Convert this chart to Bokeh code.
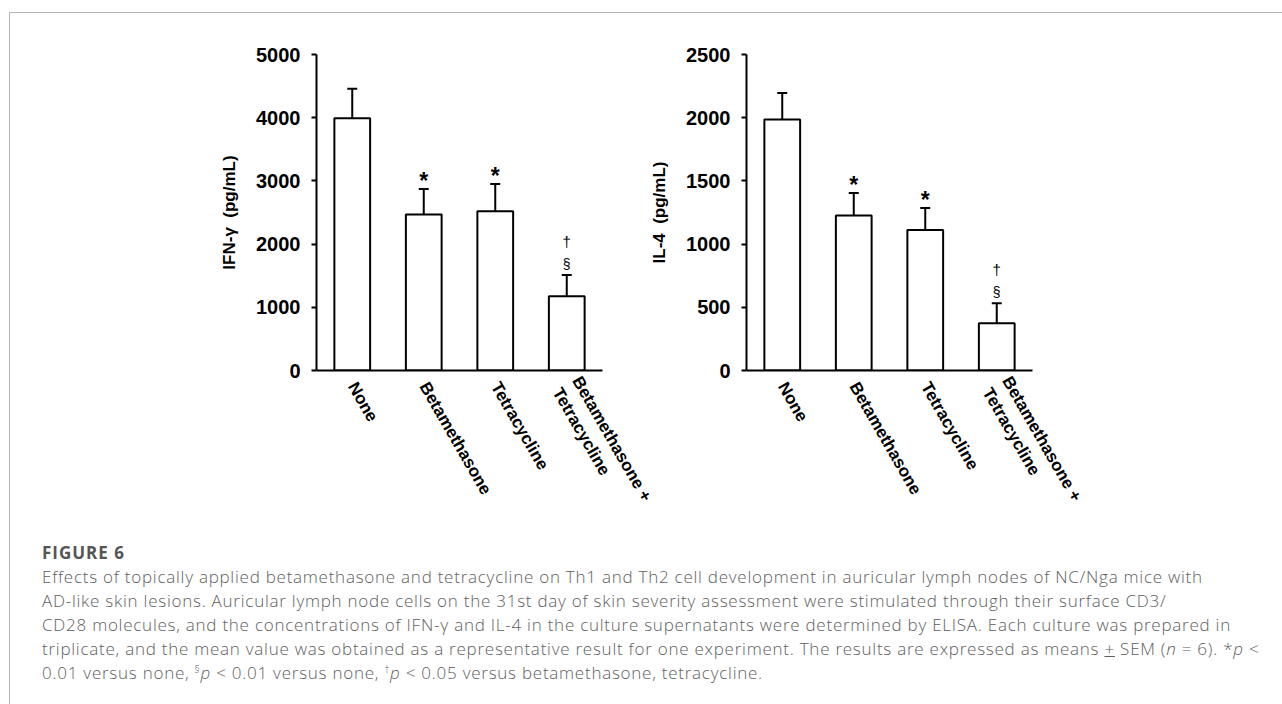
import math
from bokeh.plotting import figure
from bokeh.models import (ColumnDataSource, FactorRange, Range1d, FixedTicker,
                          Whisker, TeeHead, Div)
from bokeh.layouts import row, column
from bokeh.core.properties import value
from bokeh.embed import file_html
from bokeh.resources import INLINE

# ---------------- data ----------------
categories = ["None", "Betamethasone", "Tetracycline", "Betamethasone +\nTetracycline"]

ifn_mean = [3990, 2470, 2520, 1175]
ifn_sem = [470, 400, 430, 335]
ifn_ticks = [0, 1000, 2000, 3000, 4000, 5000]

il4_mean = [1985, 1227, 1111, 374]
il4_sem = [210, 177, 174, 158]
il4_ticks = [0, 500, 1000, 1500, 2000, 2500]

star_marks = ["", "*", "*", ""]
sect_marks = ["", "", "", "§"]
dagger_marks = ["", "", "", "†"]

FONT = "Liberation Sans"


def make_panel(means, sems, ticks, ylabel, left_border, right_border):
    upper = [m + s for m, s in zip(means, sems)]
    src = ColumnDataSource(dict(cat=categories, mean=means, upper=upper,
                                star=star_marks, sect=sect_marks, dag=dagger_marks))
    p = figure(x_range=FactorRange(*categories), y_range=Range1d(ticks[0], ticks[-1]),
               frame_width=286, frame_height=316,
               min_border_left=left_border, min_border_right=right_border,
               min_border_top=41, min_border_bottom=150,
               output_backend="svg", toolbar_location=None)
    p.outline_line_color = None
    p.background_fill_alpha = 0
    p.border_fill_alpha = 0
    p.xgrid.visible = False
    p.ygrid.visible = False

    p.vbar(x="cat", top="mean", width=0.5, source=src,
           fill_color="white", line_color="black", line_width=2)
    w = Whisker(base="cat", lower="mean", upper="upper", source=src,
                dimension="height", line_color="black", line_width=2,
                upper_head=TeeHead(size=10, line_width=2, line_color="black"),
                lower_head=None)
    p.add_layout(w)

    p.text(x="cat", y="upper", text="star", source=src, text_align="center",
           text_baseline="middle", y_offset=-8, text_font=value(FONT),
           text_font_size="23px", text_font_style="bold", text_color="black")
    p.text(x="cat", y="upper", text="sect", source=src, text_align="center",
           text_baseline="middle", y_offset=-11, text_font=value(FONT),
           text_font_size="14px", text_color="black")
    p.text(x="cat", y="upper", text="dag", source=src, text_align="center",
           text_baseline="middle", y_offset=-34, text_font=value(FONT),
           text_font_size="15px", text_color="black")

    ya = p.yaxis[0]
    ya.ticker = FixedTicker(ticks=ticks)
    ya.axis_line_width = 2
    ya.major_tick_line_width = 2
    ya.major_tick_out = 5
    ya.major_tick_in = 0
    ya.minor_tick_line_color = None
    ya.major_label_standoff = 11
    ya.major_label_text_font = FONT
    ya.major_label_text_font_style = "bold"
    ya.major_label_text_font_size = "20px"
    ya.major_label_text_color = "black"
    ya.axis_label = ylabel
    ya.axis_label_text_font = FONT
    ya.axis_label_text_font_style = "bold"
    ya.axis_label_text_font_size = "17px"
    ya.axis_label_text_color = "black"
    ya.axis_label_standoff = 14

    xa = p.xaxis[0]
    xa.axis_line_width = 2
    xa.major_tick_line_color = None
    xa.major_tick_out = 0
    xa.major_tick_in = 0
    xa.minor_tick_line_color = None
    xa.major_label_orientation = -math.pi / 3
    xa.major_label_standoff = 13
    xa.major_label_text_font = FONT
    xa.major_label_text_font_style = "bold"
    xa.major_label_text_font_size = "17px"
    xa.major_label_text_color = "black"
    return p


p1 = make_panel(ifn_mean, ifn_sem, ifn_ticks, "IFN-γ\u00a0 (pg/mL)", 306, 66)
p2 = make_panel(il4_mean, il4_sem, il4_ticks, "IL-4\u00a0 (pg/mL)", 108, 75)
p2.margin = (0, 0, 0, -30)

SUP = '<span style="font-size:10px; vertical-align:6px; line-height:0;">{}</span>'
caption_lines = [
    "Effects of topically applied betamethasone and tetracycline on Th1 and Th2 cell development in auricular lymph nodes of NC/Nga mice with",
    "AD-like skin lesions. Auricular lymph node cells on the 31st day of skin severity assessment were stimulated through their surface CD3/",
    "CD28 molecules, and the concentrations of IFN-γ and IL-4 in the culture supernatants were determined by ELISA. Each culture was prepared in",
    "triplicate, and the mean value was obtained as a representative result for one experiment. The results are expressed as means <u>+</u> SEM (<i>n</i> = 6). *<i>p</i> &lt;",
    "0.01 versus none, " + SUP.format("§") + "<i>p</i> &lt; 0.01 versus none, " + SUP.format("†")
    + "<i>p</i> &lt; 0.05 versus betamethasone, tetracycline.",
]
caption_html = (
    '<div style="font-family:\'Open Sans\'; color:#5e5e5e; white-space:nowrap; padding-left:27px; padding-top:7px;">'
    '<div style="font-size:17px; font-weight:700; letter-spacing:1px; line-height:24px; color:#555555;">FIGURE 6</div>'
    '<div style="font-size:17px; font-weight:300; letter-spacing:0.75px; line-height:24px;">' + "<br>".join(caption_lines) + '</div></div>'
)
cap = Div(text=caption_html, width=1262, height=175)

layout = column(row(p1, p2), cap, margin=(12, 0, 0, 9),
                styles={"border-top": "1px solid #b5b5b5", "border-left": "1px solid #b5b5b5"})

with open("out.html", "w") as f:
    f.write(file_html(layout, INLINE))
